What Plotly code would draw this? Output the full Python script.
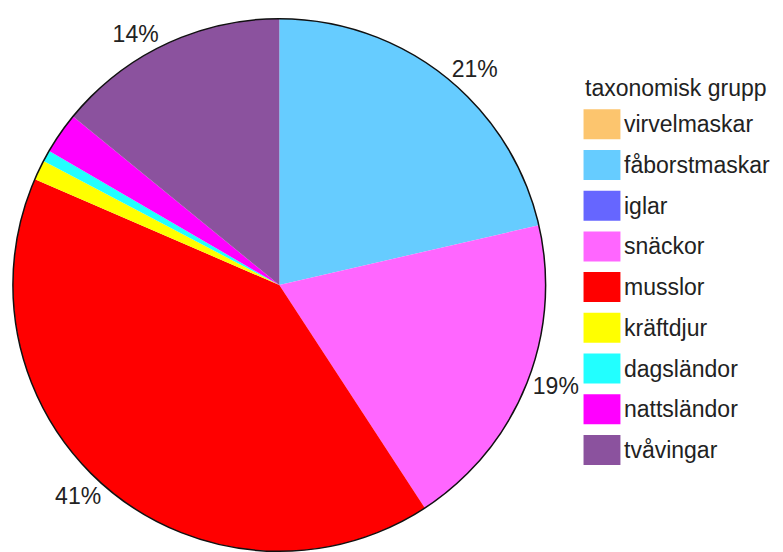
import plotly.graph_objects as go

# ---- data ----
groups = ["virvelmaskar", "fåborstmaskar", "iglar", "snäckor", "musslor",
          "kräftdjur", "dagsländor", "nattsländor", "tvåvingar"]
shares = [0.0, 21.4, 0.0, 19.4, 40.7, 1.2, 0.7, 2.5, 14.1]
colors = ["#FCC56E", "#66CCFF", "#6666FF", "#FF66FF", "#FF0000",
          "#FFFF00", "#22FFFF", "#FF00FF", "#8B529E"]
legend_title = "taxonomisk grupp"

W, H = 783, 552
OFF = 8  # page body margin of the html page
FONT = "Liberation Sans, Arial, Helvetica, sans-serif"
TXT = "#222222"
FS = 23

total = sum(shares)
labels_txt = [f"{round(v / total * 100)}%" if v / total >= 0.05 else "" for v in shares]


def px(x):
    return (x - OFF) / W


def py(y):
    return 1 - (y - OFF) / H


# pie geometry (screen pixels)
cx, cy, r = 278, 285, 267
dom_x = [px(cx - r), px(cx + r)]
dom_y = [py(cy + r), py(cy - r)]

fig = go.Figure()
fig.add_trace(go.Pie(
    labels=groups, values=shares, sort=False, direction="clockwise", rotation=0,
    marker=dict(colors=colors, line=dict(width=0)),
    text=labels_txt, texttemplate="%{text}", textposition="outside",
    outsidetextfont=dict(family=FONT, size=FS, color=TXT),
    domain=dict(x=dom_x, y=dom_y), showlegend=False, hoverinfo="label+percent",
))
# outer outline
fig.add_trace(go.Pie(
    labels=["outline"], values=[1], sort=False,
    marker=dict(colors=["rgba(0,0,0,0)"], line=dict(color="#111111", width=1.5)),
    textinfo="none", domain=dict(x=dom_x, y=dom_y), showlegend=False, hoverinfo="skip",
))

# legend (drawn from the category/colour lists)
lx0, sw_w, sw_h = 583, 37, 30
first_top, step = 109.3, 40.7
shapes, annotations = [], []
annotations.append(dict(x=px(lx0 - 1), y=py(88), xref="paper", yref="paper",
                        xanchor="left", yanchor="middle", text=legend_title,
                        showarrow=False, font=dict(family=FONT, size=FS, color=TXT)))
for i, (g, c) in enumerate(zip(groups, colors)):
    top = first_top + i * step
    shapes.append(dict(type="rect", xref="paper", yref="paper",
                       x0=px(lx0), x1=px(lx0 + sw_w),
                       y0=py(top + sw_h), y1=py(top),
                       fillcolor=c, line=dict(width=0)))
    annotations.append(dict(x=px(lx0 + sw_w + 2), y=py(top + sw_h / 2),
                            xref="paper", yref="paper", xanchor="left", yanchor="middle",
                            text=g, showarrow=False,
                            font=dict(family=FONT, size=FS, color=TXT)))

fig.update_layout(
    width=W, height=H, margin=dict(l=0, r=0, t=0, b=0),
    paper_bgcolor="white", plot_bgcolor="white", showlegend=False,
    shapes=shapes, annotations=annotations,
)
fig.write_html("out.html")
